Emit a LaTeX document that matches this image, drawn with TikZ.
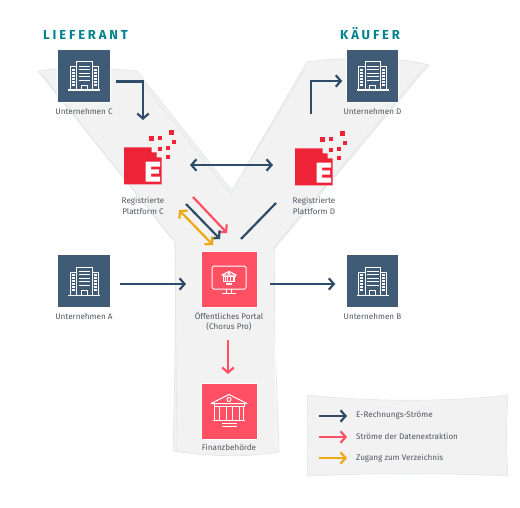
\documentclass[tikz,border=0pt]{standalone}
\usepackage{fontspec}
\setmainfont{Fira Sans}
\newfontfamily\headfont[LetterSpace=22]{Fira Sans}
\usetikzlibrary{arrows.meta,positioning}
\definecolor{tileblue}{HTML}{3F5B76}
\definecolor{flowblue}{HTML}{2E4C69}
\definecolor{portalred}{HTML}{FF5064}
\definecolor{logored}{HTML}{EE2337}
\definecolor{accessamber}{HTML}{F0A810}
\definecolor{headteal}{HTML}{00838F}
\definecolor{shapefill}{HTML}{F2F2F2}
\definecolor{shapeline}{HTML}{E1E7E6}
\definecolor{labelgray}{HTML}{4F5761}
\tikzset{
  tile/.style={draw=white,line width=0.6pt,inner sep=0pt,outer sep=0pt,minimum size=#1},
  lab/.style={text=labelgray,font=\fontsize{8.1}{10.5}\selectfont,align=center,inner sep=0pt},
  head/.style={text=headteal,font=\headfont\bfseries\fontsize{13}{13}\selectfont,inner sep=0pt},
  barb/.style={-{Straight Barb[length=5pt,width=11.5pt,line width=2.2pt]}},
  twobarb/.style={{Straight Barb[length=5pt,width=11.5pt,line width=2.2pt]}-{Straight Barb[length=5pt,width=11.5pt,line width=2.2pt]}},
  flow/.style={line width=2.2pt,color=#1,barb},
  flow/.default=flowblue,
  icon/.style={draw=white,line width=1pt,fill=none,line join=miter},
  building/.pic={
    \draw[icon] (-7.5,14)--(-7.5,-14)--(8,-14)--(8,14);
    \draw[icon] (-7.5,-9)--(-14,-9)--(-14,14);
    \draw[icon] (8,-9)--(14,-9)--(14,14);
    \draw[icon,line width=1.4pt] (-16,14.2)--(16,14.2);
    \draw[icon] (-3,14)--(-3,9.5)--(3,9.5)--(3,14);
    \foreach \y in {-10,-6.5,-3,0.5,4} \draw[icon,line width=0.9pt] (-5.5,\y)--(6,\y);
    \foreach \y in {-6,-3,0,3,6,9} {
      \draw[white,line width=1.1pt] (-12.5,\y)--(-9.5,\y);
      \draw[white,line width=1.1pt] (9.5,\y)--(12.5,\y);
    }
  },
  bank/.pic={
    \draw[icon,line join=round] (-18,-7.5)--(0,-16.5)--(18,-7.5)--cycle;
    \draw[icon] (0,-11.5) circle (2pt);
    \draw[icon] (-15,-7.5)--(-15,-4.5)--(15,-4.5)--(15,-7.5);
    \foreach \x in {-14.5,-10,-3,3,10,14.5} \draw[icon] (\x,-4.5)--(\x,9);
    \draw[icon] (-16,9)--(16,9);
    \draw[icon] (-7.5,12.5)--(7.5,12.5);
    \draw[icon] (-7.5,15)--(7.5,15);
  },
  logotile/.pic={
    \fill[logored] (-19,-18.7)--(8.7,-18.7)--(8.7,-13.7)--(13.7,-13.7)--(13.7,-8.7)
       --(18.7,-8.7)--(18.7,18.5)--(-19,18.5)--cycle;
    \fill[white] (2.7,-4.3)--(17,-4.3)--(17,0.7)--(8,0.7)--(8,3.3)--(16,3.3)--(16,7.7)--(8,7.7)
       --(8,10.7)--(17,10.7)--(17,15.7)--(2.7,15.7)--cycle;
    \foreach \x/\y/\s in {8.7/-27/5,17/-28/4,28/-33/5,31/-24/4,17/-17/4.5,25/-18/3.5,25/-9/3.5}
      \fill[logored] ({\x-\s/2},{\y-\s/2}) rectangle ++(\s,\s);
  }
}

\begin{document}
\begin{tikzpicture}[x=1pt,y=-1pt]
  \useasboundingbox (0,0) rectangle (520,508);
  % Y band behind everything, with a second sketch line along its edges
  \draw[fill=shapefill,draw=shapeline,line width=0.7pt]
    (38,71) .. controls (70,66) and (105,68) .. (137,71)
    -- (232,191) -- (307,62)
    .. controls (345,57) and (395,56) .. (429,65)
    -- (275,248)
    .. controls (273,320) and (277,390) .. (279,452)
    .. controls (245,458) and (205,456) .. (173,451)
    .. controls (175,380) and (176,310) .. (175,242)
    -- cycle;
  \draw[shapeline,line width=0.6pt] (41,73)--(171,238);
  \draw[shapeline,line width=0.6pt] (140,80)--(232,196);
  \draw[shapeline,line width=0.6pt] (232,191)--(305,70);
  \draw[shapeline,line width=0.6pt] (424,68)--(270,252);
  \draw[shapeline,line width=0.6pt] (175,245)--(177,450);
  \draw[white,line width=0.6pt] (275,255)--(276,448);
  % legend panel
  \draw[fill=shapefill,draw=shapeline,line width=0.6pt]
    (307,395) .. controls (370,402) and (450,402) .. (508,395)
    .. controls (506,420) and (506,450) .. (508,476)
    .. controls (450,473) and (370,473) .. (307,476)
    .. controls (308,450) and (308,420) .. (307,395) -- cycle;

  \node[head,anchor=base west] (headL) at (43,40) {LIEFERANT};
  \node[head,anchor=base west] (headK) at (340,40) {KÄUFER};

  % company tiles
  \node[tile=52.5pt,fill=tileblue] (untC) at (84,76) {};
  \node[tile=52.5pt,fill=tileblue] (untD) at (372.5,76) {};
  \node[tile=52.5pt,fill=tileblue] (untA) at (84,281) {};
  \node[tile=52.5pt,fill=tileblue] (untB) at (372.5,281) {};
  \foreach \n in {untC,untD,untA,untB} \pic at (\n) {building};
  \node[lab,below=6pt of untC] (labC) {Unternehmen C};
  \node[lab,below=6pt of untD] (labD) {Unternehmen D};
  \node[lab,below=6pt of untA] (labA) {Unternehmen A};
  \node[lab,below=6pt of untB] (labB) {Unternehmen B};

  % platforms
  \node[inner sep=0pt,outer sep=0pt,minimum size=38pt] (platC) at (143,166) {};
  \node[inner sep=0pt,outer sep=0pt,minimum size=38pt] (platD) at (314,167) {};
  \pic at (platC) {logotile};
  \pic at (platD) {logotile};
  \node[lab,below=12pt of platC] (labPC) {Registrierte\\Plattform C};
  \node[lab,below=11pt of platD] (labPD) {Registrierte\\Plattform D};

  % portal and tax office
  \node[tile=56pt,fill=portalred] (portal) at (229,279) {};
  \node[tile=56pt,fill=portalred] (fisc) at (229,411) {};
  \draw[icon,rounded corners=1.5pt] (212,266) rectangle (246,289);
  \draw[icon] (226.5,289)--(226.5,293.5) (231.5,289)--(231.5,293.5);
  \draw[icon] (222,293.5)--(236,293.5);
  \pic[scale=0.4,every path/.append style={line width=0.6pt}] at (229,278) {bank};
  \pic at (fisc) {bank};
  \node[lab,below=5pt of portal] (labP) {Öffentliches Portal\\(Chorus Pro)};
  \node[lab,below=5pt of fisc] (labF) {Finanzbehörde};

  % flows
  \draw[flow] ([shift={(6,5.5)}]untC.east) -| ([shift={(0,-27)}]platC.north);
  \draw[flow] ([shift={(-3,-34)}]platD.north) |- ([shift={(-4,5)}]untD.west);
  \draw[flow,twobarb] ([shift={(28,-1)}]platC.east) -- ([shift={(-22,-2)}]platD.west);
  \draw[flow=portalred] ([shift={(31,12)}]platC.south east) -- ([shift={(26,-18)}]portal.north west);
  \draw[flow] ([shift={(24,19)}]platC.south east) -- ([shift={(19,-12)}]portal.north west);
  \draw[flow=accessamber,twobarb] ([shift={(17,25)}]platC.south east) -- ([shift={(12,-6)}]portal.north west);
  \draw[color=flowblue,line width=2.2pt] ([shift={(-19,17)}]platD.south west) -- ([shift={(-16,-12)}]portal.north east);
  \draw[flow] ([shift={(10,3)}]untA.east) -- ([shift={(-15,5)}]portal.west);
  \draw[flow] ([shift={(13,5)}]portal.east) -- ([shift={(-11,3)}]untB.west);
  \draw[flow=portalred] ([shift={(-1,9)}]labP.south) -- ([shift={(-1,-9)}]fisc.north);

  % legend
  \coordinate (keyA) at (319,416);
  \coordinate (keyB) at (319,437);
  \coordinate (keyC) at (319,458);
  \draw[flow] (keyA) -- ++(28,0);
  \draw[flow=portalred] (keyB) -- ++(28,0);
  \draw[flow=accessamber] (keyC) -- ++(28,0);
  \node[lab,anchor=west] (txtA) at (356,415) {E-Rechnungs-Ströme};
  \node[lab,anchor=west] (txtB) at (356,436) {Ströme der Datenextraktion};
  \node[lab,anchor=west] (txtC) at (356,458) {Zugang zum Verzeichnis};
\end{tikzpicture}
\end{document}
